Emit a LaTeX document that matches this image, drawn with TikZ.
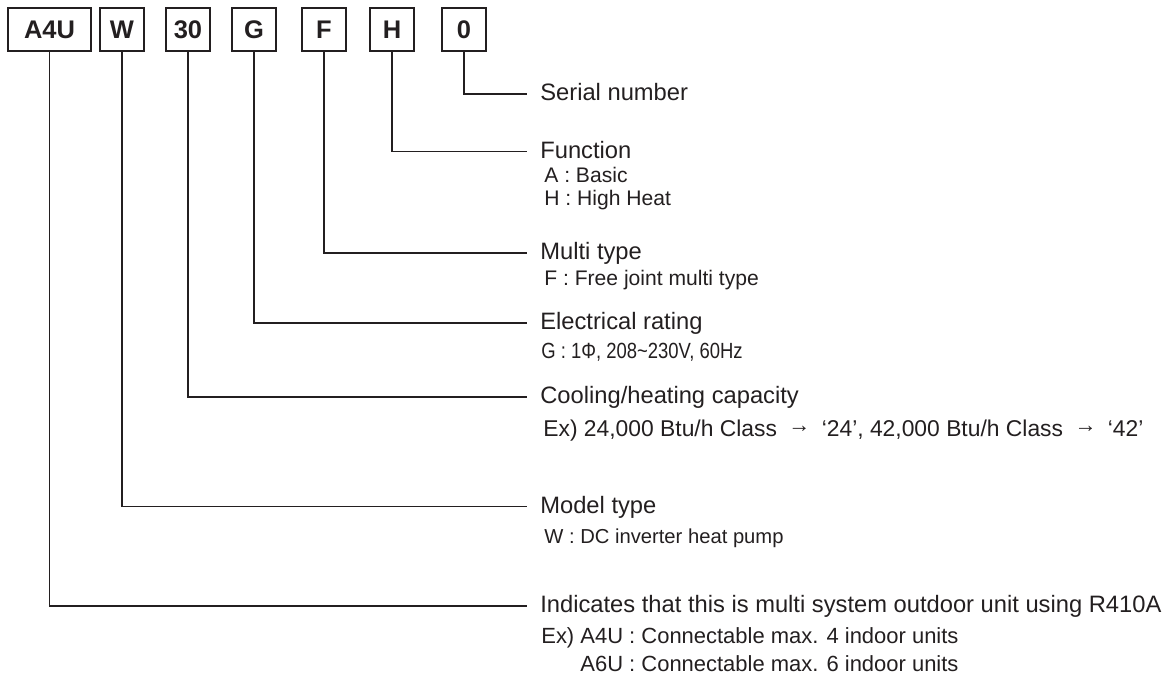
\documentclass[tikz,border=0pt]{standalone}
\usepackage{fontspec}
\setmainfont{Liberation Sans}
\newfontfamily\condsans[FakeStretch=0.84]{Liberation Sans}
\usepackage{tikz}
\usetikzlibrary{positioning,calc}
\definecolor{MNInk}{HTML}{231F20}
\newcommand{\capArrow}{\enspace\raisebox{.3ex}{\fontsize{12.5}{12}\selectfont →}\enspace}
\tikzset{
  codebox/.style={draw=MNInk,line width=1.3pt,minimum height=0.86cm,minimum width=0.88cm,
                  inner sep=2pt,font=\fontsize{14.5}{16}\selectfont\bfseries,text=MNInk},
  headtxt/.style={anchor=west,inner ysep=0pt,inner xsep=0.26cm,text height=1.6ex,text depth=.2ex,
                  font=\fontsize{13.5}{16}\selectfont,text=MNInk},
  subtxt/.style={anchor=west,inner sep=0pt,text height=1.6ex,text depth=.2ex,
                 font=\fontsize{12}{14}\selectfont,text=MNInk},
  leadline/.style={draw=MNInk,line width=1pt}
}
\begin{document}
\begin{tikzpicture}
    \useasboundingbox (0,0) rectangle (23.52,-13.96);
    % model code boxes
    \node[codebox,minimum width=1.66cm] (bA4U) at (0.99,-0.59) {A4U};
    \node[codebox] (bW)  at (2.44,-0.59) {W};
    \node[codebox] (b30) at (3.76,-0.59) {30};
    \node[codebox] (bG)  at (5.08,-0.59) {G};
    \node[codebox] (bF)  at (6.48,-0.59) {F};
    \node[codebox] (bH)  at (7.84,-0.59) {H};
    \node[codebox] (b0)  at (9.28,-0.59) {0};
    % headings
    \node[headtxt] (hSer) at (10.54,-1.88)  {Serial number};
    \node[headtxt] (hFun) at (10.54,-3.03)  {Function};
    \node[headtxt] (hMul) at (10.54,-5.06)  {Multi type};
    \node[headtxt] (hEle) at (10.54,-6.46)  {Electrical rating};
    \node[headtxt] (hCap) at (10.54,-7.94)  {Cooling/heating capacity};
    \node[headtxt] (hMod) at (10.54,-10.13) {Model type};
    \node[headtxt] (hInd) at (10.54,-12.12) {Indicates that this is multi system outdoor unit using R410A};
    % details
    \node[subtxt] (sFunA) at (10.88,-3.52)  {A : Basic};
    \node[subtxt] (sFunH) at (10.88,-3.98)  {H : High Heat};
    \node[subtxt] (sMul)  at (10.88,-5.58)  {F : Free joint multi type};
    \node[subtxt,font=\condsans\fontsize{12.5}{14}\selectfont] (sEle) at (10.82,-7.04)
      {G : 1Φ, 208\textasciitilde230V, 60Hz};
    \node[subtxt,font=\fontsize{13}{15}\selectfont] (sCap) at (10.86,-8.60)
      {Ex) 24,000 Btu/h Class\capArrow‘24’, 42,000 Btu/h Class\capArrow‘42’};
    \node[subtxt,font=\fontsize{11.5}{13}\selectfont] (sMod)  at (10.88,-10.74) {W : DC inverter heat pump};
    \node[subtxt,font=\fontsize{12.5}{15}\selectfont] (sInd1) at (10.82,-12.74)
      {Ex) A4U : Connectable max. 4 indoor units};
    \node[subtxt,font=\fontsize{12.5}{15}\selectfont] (sInd2) at (10.82,-13.30)
      {\phantom{Ex) }A6U : Connectable max. 6 indoor units};
    % leader lines
    \foreach \b/\h in {b0/hSer,bH/hFun,bF/hMul,bG/hEle,b30/hCap,bW/hMod,bA4U/hInd}
      \draw[leadline] (\b.south) |- (\h.west);
\end{tikzpicture}
\end{document}
